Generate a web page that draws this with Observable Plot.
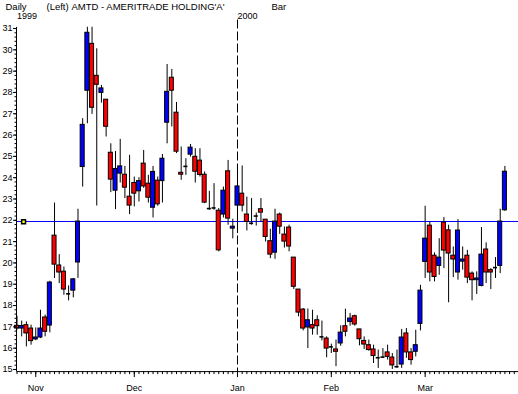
<!DOCTYPE html>
<html><head><meta charset="utf-8">
<script src="https://cdn.jsdelivr.net/npm/d3@7"></script>
<script src="https://cdn.jsdelivr.net/npm/@observablehq/plot@0.6"></script>
<style>html,body{margin:0;padding:0;background:#fff;overflow:hidden}</style>
</head><body><div id="chart"></div>
<script>
// Daily OHLC, AMTD, trading days from late Oct 1999 to late Mar 2000 (index = trading day)
const opens  = [17.05,16.92,17.08,16.92,16.41,16.50,17.44,17.06,21.28,19.88,19.59,18.58,18.70,20.02,24.50,28.08,30.28,28.78,27.98,27.66,25.17,23.39,24.19,24.14,23.11,23.75,23.36,24.66,23.72,22.59,23.86,23.84,26.58,28.69,27.05,24.23,24.55,25.08,24.98,24.80,24.14,22.58,22.55,22.45,22.27,24.30,21.61,22.69,23.25,22.27,21.88,22.20,22.52,22.03,21.02,20.48,22.27,21.33,21.66,20.25,18.75,17.81,16.97,17.08,17.31,16.55,16.45,16.08,15.94,16.22,17.03,17.23,17.50,16.88,16.34,16.14,15.94,15.56,15.60,15.80,15.56,15.14,15.23,16.69,15.80,15.83,17.14,20.05,21.75,20.34,19.86,21.89,21.53,20.34,19.55,20.06,20.34,19.50,19.19,18.92,20.63,19.66,19.80,19.86,22.47];
const highs  = [17.50,17.27,17.23,17.08,16.95,17.78,17.55,19.14,22.81,20.39,19.81,18.92,19.27,22.52,26.77,31.06,31.06,30.05,28.33,27.66,25.59,25.23,25.80,24.53,25.05,24.03,24.00,25.28,24.11,24.53,24.03,25.09,29.31,29.08,27.53,25.44,24.89,25.56,25.36,25.36,24.27,23.36,23.72,22.55,23.56,24.81,22.05,24.55,24.55,23.09,23.02,22.34,23.02,22.03,21.58,22.52,22.34,21.69,21.77,20.25,18.75,17.86,17.84,17.78,17.52,17.27,16.53,16.19,16.38,17.05,17.83,17.63,17.55,16.88,16.53,16.38,16.14,15.91,15.98,16.14,15.75,15.91,16.88,16.92,15.98,16.84,18.95,22.66,21.92,20.47,21.14,22.13,21.77,20.75,22.03,20.75,20.59,19.58,19.58,21.66,20.94,19.73,20.25,22.52,24.53];
const lows   = [16.85,16.53,16.06,16.14,16.35,16.45,16.53,16.72,19.27,19.03,18.48,18.22,18.36,19.27,23.56,26.53,26.97,22.67,27.50,25.91,23.30,22.50,23.75,23.02,22.27,22.63,22.86,23.50,22.81,22.11,22.66,22.81,25.59,26.38,25.13,23.88,24.11,24.97,23.75,24.03,22.78,22.47,22.47,20.52,22.11,21.77,21.13,21.38,22.39,21.50,21.77,21.73,21.92,20.98,20.20,20.17,21.34,20.70,20.52,18.75,17.47,16.81,15.98,16.61,16.61,16.34,15.55,15.75,15.13,16.09,16.53,17.03,17.03,16.11,15.94,15.86,15.28,15.05,15.52,15.44,15.00,15.05,15.05,15.52,15.20,15.59,16.81,19.27,19.11,19.11,19.42,19.73,18.13,19.31,19.19,19.66,19.03,18.22,18.52,18.88,19.03,18.75,19.27,19.50,22.42];
const closes = [16.92,17.04,16.69,16.33,16.50,16.92,16.77,19.08,19.92,19.55,18.75,18.55,19.23,21.94,26.48,30.80,27.28,28.36,28.19,26.39,23.91,24.41,24.53,23.53,22.69,23.25,23.84,23.59,23.06,24.27,22.75,24.89,28.03,28.08,25.22,24.14,24.53,25.41,24.28,24.13,22.83,22.55,22.58,20.59,23.39,22.08,21.70,23.59,22.69,21.92,21.86,22.20,22.36,21.22,20.39,21.94,21.70,21.00,20.77,18.88,17.67,16.92,17.31,16.92,17.03,16.53,15.98,16.06,15.83,16.73,16.77,17.39,17.11,16.42,16.17,15.91,15.63,15.55,15.58,15.59,15.19,15.13,16.50,15.80,15.44,16.14,18.70,21.14,19.55,19.34,20.25,20.58,20.44,20.16,21.52,20.16,19.31,19.19,19.27,20.39,19.55,19.55,19.78,21.94,24.28];

const monthTickIndex = [4, 25, 47, 67, 87];
const monthLabels = ["Nov", "Dec", "Jan", "Feb", "Mar"];
const priceTicks = [15,16,17,18,19,20,21,22,23,24,25,26,27,28,29,30,31];
const levelPrice = 21.93;
const yearBreakIndex = 47;
const yearLabelIndex = [0, 47];
const yearLabels = ["1999", "2000"];
const headerLabels = ["Daily", "(Left)", "AMTD - AMERITRADE HOLDING'A'", "Bar"];
const headerOffsets = [-11.5, 29.5, 54.5, 254.5];

const candles = opens.map((o, i) => ({i, o, h: highs[i], l: lows[i], c: closes[i]}));
const doji = d => Math.abs(d.o - d.c) < 0.06;
const hw = 0.43;
const nDays = 107;

const plot = Plot.plot({
  width: 518, height: 394,
  marginLeft: 16.5, marginRight: 0, marginTop: 19.5, marginBottom: 22.9,
  x: {type: "linear", domain: [0, 106.9], label: null},
  y: {domain: [14.9, 31.4], label: null},
  style: {fontFamily: "'Liberation Sans', Arial, sans-serif", fontSize: "9px", background: "white", color: "black", overflow: "visible"},
  marks: [
    Plot.ruleY([levelPrice], {stroke: "#0000ff", dy: -0.3}),
    Plot.ruleX([yearBreakIndex], {stroke: "black", strokeDasharray: "9,3"}),
    Plot.ruleX(candles, {x: "i", y1: "l", y2: "h", stroke: "black"}),
    Plot.rect(candles.filter(d => !doji(d)), {x1: d => d.i - hw, x2: d => d.i + hw, y1: "o", y2: "c",
      fill: d => d.c > d.o ? "#0000ff" : "#ff0000", stroke: "black", strokeWidth: 1}),
    Plot.ruleY(candles.filter(doji), {y: "c", x1: d => d.i - hw, x2: d => d.i + hw, stroke: "black", strokeWidth: 1.6}),
    Plot.dot([levelPrice], {x: 1.4, y: d => d, symbol: "square", r: 2.2, fill: "yellow", stroke: "black"}),
    // axes
    Plot.ruleX([0], {y1: 14.9, y2: 31.05, stroke: "black", dx: -0.5}),
    Plot.ruleY([14.9], {stroke: "black"}),
    Plot.axisY(priceTicks, {tickSize: 3, tickPadding: 1, label: null, dx: -0.5}),
    Plot.axisY(d3.ticks(15, 31, 80), {tickSize: 1.5, tickFormat: () => "", label: null, dx: -0.5}),
    Plot.axisX(d3.range(0, nDays), {tickSize: 3, tickFormat: () => "", label: null}),
    Plot.axisX(monthTickIndex, {tickSize: 6, tickPadding: 7, tickFormat: d => monthLabels[monthTickIndex.indexOf(d)], label: null}),
    // header texts
    ...headerLabels.map((t, k) => Plot.text([t], {text: d => d, frameAnchor: "top-left", dx: headerOffsets[k], dy: -17, textAnchor: "start", lineAnchor: "top", fontSize: 9.5})),
    Plot.text(yearLabelIndex, {x: d => d, text: (d, k) => yearLabels[k], frameAnchor: "top", dy: -7.5, textAnchor: "start", lineAnchor: "top"})
  ]
});
document.getElementById("chart").appendChild(plot);
</script>
</body></html>
